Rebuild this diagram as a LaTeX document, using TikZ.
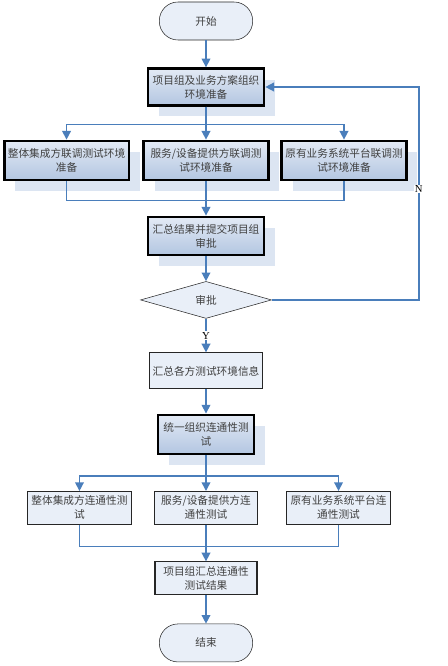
\documentclass[tikz,border=0pt]{standalone}
\usepackage{fontspec}
\setmainfont{Liberation Serif}
\newfontfamily\cjk{Noto Sans CJK SC}
\usetikzlibrary{shapes.geometric,shadows,arrows.meta}
\definecolor{flowblue}{HTML}{4A7EBB}
\definecolor{lightfill}{HTML}{E9EFF8}
\definecolor{shadowblue}{HTML}{DCE5F2}
\definecolor{gradtop}{HTML}{E3EAF5}
\definecolor{gradbot}{HTML}{B3C6E1}
\definecolor{textgray}{HTML}{404040}
\begin{document}
\begin{tikzpicture}[node distance=2cm, auto,
    every node/.style={font=\cjk\fontsize{8}{10.5}\selectfont, text=textgray, align=center, inner sep=1pt},
    endpoint/.style={rectangle, rounded corners=14pt, draw=black!85, fill=lightfill, minimum width=70pt, minimum height=28.5pt},
    thickbox/.style={rectangle, draw=black, line width=2pt, top color=gradtop, bottom color=gradbot, minimum width=87pt, minimum height=27.5pt,
        drop shadow={shadow xshift=8.25pt, shadow yshift=-8.25pt, fill=shadowblue, opacity=1}},
    wide/.style={minimum width=93.5pt, minimum height=29.25pt},
    plainbox/.style={rectangle, draw=black!85, line width=0.8pt, fill=lightfill, minimum width=77.5pt, minimum height=24.5pt},
    decision/.style={diamond, draw=black!85, fill=lightfill, minimum width=98.25pt, minimum height=27.75pt, inner sep=0pt},
    flow/.style={draw=flowblue, line width=1.1pt, -{Triangle[length=6.5pt, width=6.5pt]}},
    link/.style={draw=flowblue, line width=1.1pt},
    mark label/.style={auto=false, anchor=center, font=\fontsize{8}{10}\selectfont, text=black, fill=white, inner sep=0.5pt}]
    \useasboundingbox (-154.5pt,15.75pt) rectangle (180.75pt,-483.75pt);

    \node [endpoint] (start) {开始};
    \node [thickbox, below of=start, node distance=49.5pt] (prep) {项目组及业务方案组织\\环境准备};
    \node [thickbox, wide, below of=prep, node distance=55.1pt] (prepB) {服务/设备提供方联调测\\试环境准备};
    \node [thickbox, wide, left of=prepB, node distance=104.6pt] (prepA) {整体集成方联调测试环境\\准备};
    \node [thickbox, wide, right of=prepB, node distance=103.5pt] (prepC) {原有业务系统平台联调测\\试环境准备};
    \node [thickbox, minimum height=28.5pt, below of=prepB, node distance=56.6pt] (submit) {汇总结果并提交项目组\\审批};
    \node [decision, below of=submit, node distance=48pt] (approve) {审批};
    \node [plainbox, minimum width=85pt, minimum height=27pt, below of=approve, node distance=53.25pt] (collect) {汇总各方测试环境信息};
    \node [thickbox, minimum width=72pt, minimum height=29.25pt, below of=collect, node distance=47.6pt] (unify) {统一组织连通性测\\试};
    \node [plainbox, below of=unify, node distance=55.1pt] (testB) {服务/设备提供方连\\通性测试};
    \node [plainbox, left of=testB, node distance=94.9pt] (testA) {整体集成方连通性测\\试};
    \node [plainbox, right of=testB, node distance=99.4pt] (testC) {原有业务系统平台连\\通性测试};
    \node [plainbox, minimum width=76.5pt, minimum height=24.75pt, below of=testB, node distance=52.9pt] (summary) {项目组汇总连通性\\测试结果};
    \node [endpoint, below of=summary, node distance=48.4pt] (finish) {结束};

    \draw [flow] (start) -- (prep);
    \draw [flow] (prep) -- (prepB);
    \draw [flow] (prep.south) |- ([yshift=11.25pt]prepA.north) -- (prepA.north);
    \draw [flow] (prep.south) |- ([yshift=11.25pt]prepC.north) -- (prepC.north);
    \draw [link] (prepA.south) |- ([yshift=11.25pt]submit.north);
    \draw [link] (prepC.south) |- ([yshift=11.25pt]submit.north);
    \draw [flow] (prepB) -- (submit);
    \draw [flow] (submit) -- (approve);
    \draw [flow] (approve.east) -- ++(110.25pt,0) |- (prep.east) node [mark label, pos=0.26] {N};
    \draw [flow] (approve) -- (collect) node [mark label, midway] {Y};
    \draw [flow] (collect) -- (unify);
    \draw [flow] (unify) -- (testB);
    \draw [flow] (unify.south) |- ([yshift=11.25pt]testA.north) -- (testA.north);
    \draw [flow] (unify.south) |- ([yshift=11.25pt]testC.north) -- (testC.north);
    \draw [link] (testA.south) |- ([yshift=11.25pt]summary.north);
    \draw [link] (testC.south) |- ([yshift=11.25pt]summary.north);
    \draw [flow] (testB) -- (summary);
    \draw [flow] (summary) -- (finish);
\end{tikzpicture}
\end{document}
